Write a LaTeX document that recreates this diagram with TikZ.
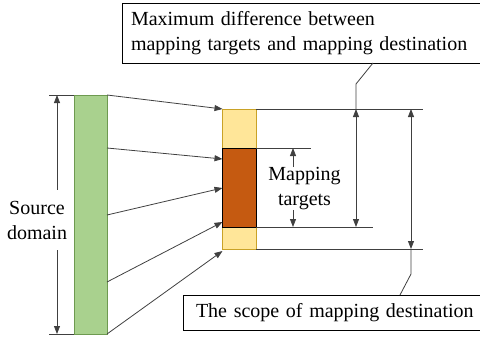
\documentclass[tikz,border=0pt]{standalone}
\usepackage{fontspec}
\setmainfont{Liberation Serif}
\usetikzlibrary{arrows.meta}
\definecolor{greenfill}{HTML}{A9D18E}
\definecolor{greenedge}{HTML}{6E9A50}
\definecolor{yellowfill}{HTML}{FFE699}
\definecolor{yellowedge}{HTML}{C9A227}
\definecolor{orangefill}{HTML}{C55A11}
\definecolor{linegray}{HTML}{404040}
\tikzset{
  txt/.style={font=\fontsize{20}{25}\selectfont},
  bar/.style={anchor=north west, inner sep=0pt, outer sep=0pt, minimum width=33.5pt},
  callout/.style={txt, draw=black, line width=1pt, anchor=north west, align=left, inner ysep=0pt, outer sep=0pt},
  conn/.style={draw=linegray, line width=0.8pt},
  arr/.style={conn, -{Triangle[length=8pt,width=6pt]}},
  darr/.style={conn, {Triangle[length=8pt,width=6pt]}-{Triangle[length=8pt,width=6pt]}},
}
\begin{document}
\begin{tikzpicture}[x=1pt,y=-1pt]
\useasboundingbox (0,0) rectangle (480,340);
\clip (0,0) rectangle (480,340);

% bars
\node[bar, draw=greenedge, fill=greenfill, line width=0.8pt, minimum width=33pt, minimum height=239pt] (src) at (74,95) {};
\node[bar, draw=yellowedge, fill=yellowfill, line width=0.9pt, minimum height=140pt] (dst) at (222.5,109) {};
\node[bar, draw=black, fill=orangefill, line width=1pt, minimum height=79pt] (tgt) at (222.5,148) {};

% helper coordinates
\coordinate (sx) at (57,0);
\coordinate (mx) at (293,0);
\coordinate (ax) at (356,0);
\coordinate (bx) at (411,0);
\coordinate (st) at (49,95);
\coordinate (sb) at (49,334);
\coordinate (e1) at (423,109);
\coordinate (e2) at (311,148);
\coordinate (e3) at (373,227);
\coordinate (e4) at (423,249);

% extension lines
\draw[conn] (st) -- (src.north west);
\draw[conn] (sb) -- (src.south west);
\draw[conn] (dst.north east) -- (e1);
\draw[conn] (tgt.north east) -- (e2);
\draw[conn] (tgt.south east) -- (e3);
\draw[conn] (dst.south east) -- (e4);

% source domain label and arrows
\node[txt, align=center, inner sep=0pt, minimum height=60pt] (sd) at (37,220) {Source\\domain};
\draw[arr] (sd.north -| sx) -- (sx |- src.north);
\draw[arr] (sd.south -| sx) -- (sx |- src.south);

% mapping targets label and arrows
\node[txt, align=center, inner sep=0pt] (mt) at (304.5,188.5) {Mapping\\targets};
\draw[arr] (mt.north -| mx) -- (mx |- tgt.north);
\draw[arr] (mt.south -| mx) -- (mx |- tgt.south);

% dimension arrows
\draw[darr] (ax |- dst.north) -- (ax |- tgt.south);
\draw[darr] (bx |- dst.north) -- (bx |- dst.south);

% mapping arrows
\coordinate (s1) at (107,95);  \coordinate (t1) at (222.5,109);
\coordinate (s2) at (107,148); \coordinate (t2) at (222.5,159);
\coordinate (s3) at (107,215); \coordinate (t3) at (222.5,188);
\coordinate (s4) at (107,282); \coordinate (t4) at (222.5,222);
\coordinate (s5) at (107,334); \coordinate (t5) at (222.5,251);
\foreach \i in {1,...,5} \draw[arr] (s\i) -- (t\i);

% callouts
\node[callout, text width=350pt, minimum height=60pt, inner xsep=9pt] (maxd) at (122,3)
  {Maximum difference between\\mapping targets and mapping destination};
\node[callout, text width=290pt, minimum height=35pt, inner xsep=13pt] (scope) at (183,295)
  {The scope of mapping destination};

% leaders
\coordinate (l1) at (373,0);
\coordinate (k1) at (356,84);
\coordinate (l2) at (400,0);
\coordinate (k2) at (411,274);
\draw[conn] (l1 |- maxd.south) -- (k1) -- (ax |- dst.north);
\draw[conn] (bx |- dst.south) -- (k2) -- (l2 |- scope.north);
\end{tikzpicture}
\end{document}
